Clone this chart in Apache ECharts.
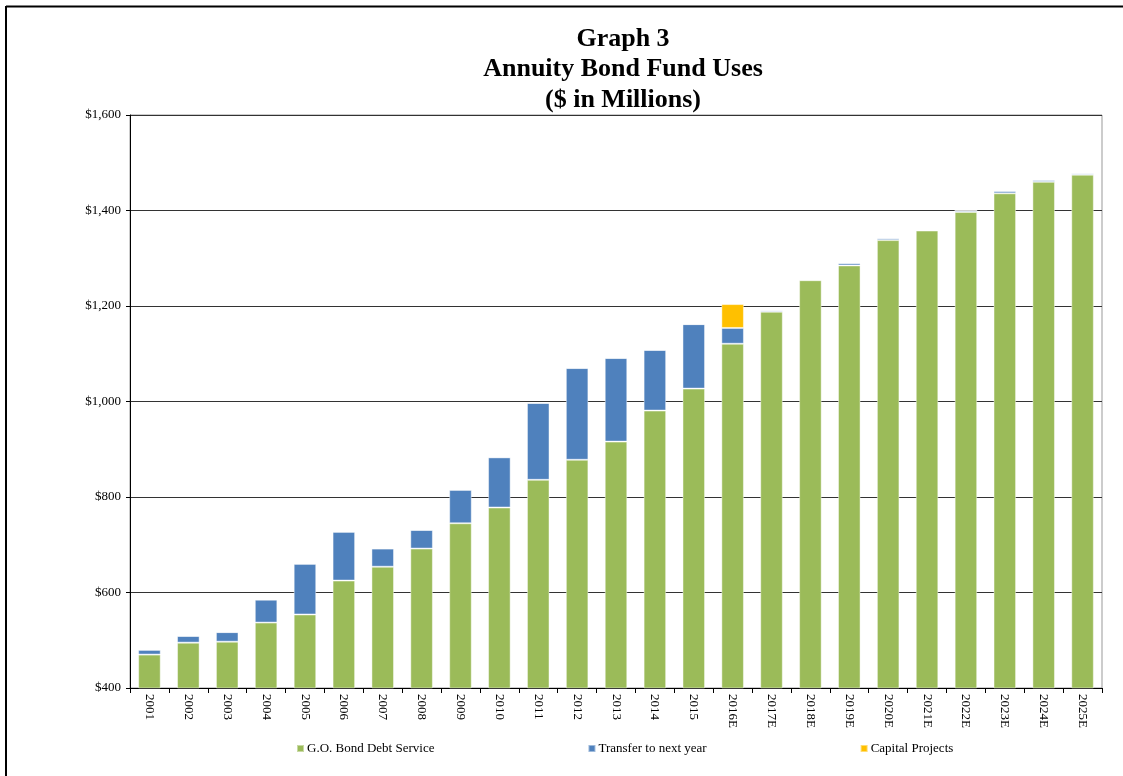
<!DOCTYPE html>
<html>
<head>
<meta charset="utf-8">
<script src="https://cdn.jsdelivr.net/npm/echarts@6/dist/echarts.min.js"></script>
<style>
  html, body { margin: 0; padding: 0; background: #fff; }
  #chart { width: 1123px; height: 776px; }
</style>
</head>
<body>
<div id="chart"></div>
<script>
// Fiscal years (E = estimate)
const years = ['2001','2002','2003','2004','2005','2006','2007','2008','2009','2010',
  '2011','2012','2013','2014','2015','2016E','2017E','2018E','2019E','2020E',
  '2021E','2022E','2023E','2024E','2025E'];

// $ in millions
const debtService = [470, 495, 497, 537, 554, 625, 654, 692, 745, 778,
  836, 878, 916, 981, 1027, 1121, 1188, 1254, 1285, 1338,
  1358, 1397, 1436, 1460, 1475];
const transferNextYear = [10, 14, 20, 48, 106, 102, 38, 39, 70, 105,
  161, 192, 175, 127, 135, 33, 3, 2, 5, 4,
  2, 3, 5, 4, 3];
const capitalProjects = [0, 0, 0, 0, 0, 0, 0, 0, 0, 0,
  0, 0, 0, 0, 0, 50, 0, 0, 0, 0,
  0, 0, 0, 0, 0];

const seriesNames = ['G.O. Bond Debt Service', 'Transfer to next year', 'Capital Projects'];

const serif = '"Liberation Serif", "Times New Roman", serif';
const chart = echarts.init(document.getElementById('chart'));

const barStyle = color => ({
  color: color,
  borderColor: 'rgba(255,255,255,0.45)',
  borderWidth: 1
});

chart.setOption({
  animation: false,
  backgroundColor: '#fff',
  title: {
    text: 'Graph 3\nAnnuity Bond Fund Uses\n($ in Millions)',
    left: 618,
    textAlign: 'center',
    top: 19,
    textStyle: {
      fontFamily: serif,
      fontWeight: 'bold',
      fontSize: 26,
      lineHeight: 30.5,
      color: '#000'
    }
  },
  legend: {
    data: seriesNames,
    left: 291,
    top: 737,
    itemWidth: 7,
    itemHeight: 7,
    itemGap: 153,
    icon: 'rect',
    textStyle: { fontFamily: serif, fontSize: 13, color: '#000', padding: [0, 0, 0, -2] }
  },
  grid: {
    left: 130,
    right: 21,
    top: 115,
    bottom: 88,
    show: true,
    borderColor: '#999',
    borderWidth: 1
  },
  xAxis: {
    type: 'category',
    data: years,
    axisLine: { lineStyle: { color: '#000', width: 1 } },
    axisTick: { show: true, length: 5, lineStyle: { color: '#000' } },
    axisLabel: {
      rotate: -90,
      margin: 6,
      fontFamily: serif,
      fontSize: 13,
      color: '#000'
    }
  },
  yAxis: {
    type: 'value',
    min: 400,
    max: 1600,
    interval: 200,
    axisLine: { show: true, lineStyle: { color: '#000', width: 1 } },
    axisTick: { show: true, length: 4, lineStyle: { color: '#000' } },
    axisLabel: {
      margin: 9,
      fontFamily: serif,
      fontSize: 13,
      color: '#000',
      formatter: v => '$' + v.toLocaleString('en-US')
    },
    splitLine: { lineStyle: { color: '#333', width: 1 } }
  },
  series: [
    {
      name: seriesNames[0], type: 'bar', stack: 'uses',
      barWidth: '58%', data: debtService, itemStyle: barStyle('#9BBB59')
    },
    {
      name: seriesNames[1], type: 'bar', stack: 'uses',
      barWidth: '58%', data: transferNextYear, itemStyle: barStyle('#4F81BD')
    },
    {
      name: seriesNames[2], type: 'bar', stack: 'uses',
      barWidth: '58%', data: capitalProjects, itemStyle: barStyle('#FFC000')
    }
  ],
  graphic: [
    // page frame along the top and left edges
    { type: 'line', shape: { x1: 6, y1: 6.5, x2: 1123, y2: 6.5 }, style: { stroke: '#000', lineWidth: 2 } },
    { type: 'line', shape: { x1: 6, y1: 6, x2: 6, y2: 776 }, style: { stroke: '#000', lineWidth: 2 } }
  ]
});
</script>
</body>
</html>
